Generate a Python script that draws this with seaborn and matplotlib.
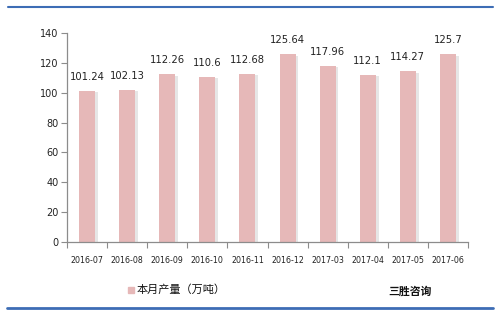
import matplotlib
matplotlib.use("Agg")
import matplotlib.pyplot as plt
import matplotlib.patheffects as pe
from matplotlib.lines import Line2D
import seaborn as sns
import pandas as pd
import numpy as np

months = ["2016-07", "2016-08", "2016-09", "2016-10", "2016-11", "2016-12",
          "2017-03", "2017-04", "2017-05", "2017-06"]
values = [101.24, 102.13, 112.26, 110.6, 112.68, 125.64, 117.96, 112.1, 114.27, 125.7]
value_labels = ["101.24", "102.13", "112.26", "110.6", "112.68", "125.64",
                "117.96", "112.1", "114.27", "125.7"]
series_name = "本月产量（万吨）"
source = "三胜咨询"
yticks = [0, 20, 40, 60, 80, 100, 120, 140]

sns.set_theme(style="white")
plt.rcParams['font.family'] = ['DejaVu Sans', 'Noto Sans CJK SC']

df = pd.DataFrame({"month": months, "value": values})

fig = plt.figure(figsize=(5, 3.17), dpi=100)
ax = fig.add_axes([0.134, 0.2366, 0.802, 0.6594])

bar_color = "#e6b8b8"
sns.barplot(data=df, x="month", y="value", color=bar_color, width=0.4,
            saturation=1, ax=ax, edgecolor="none")
for p in ax.patches:
    p.set_path_effects([pe.SimplePatchShadow(offset=(2, -1), shadow_rgbFace="#e0e0e0", alpha=0.8),
                        pe.Normal()])

for i, (v, lab) in enumerate(zip(values, value_labels)):
    ax.text(i, v + 6, lab, ha="center", va="bottom", fontsize=7.2, color="#222222")

ax.set_ylim(0, 140)
ax.set_yticks(yticks)
ax.set_xlim(-0.5, len(months) - 0.5)
ax.set_xlabel("")
ax.set_ylabel("")
for s in ["top", "right"]:
    ax.spines[s].set_visible(False)
for s in ["left", "bottom"]:
    ax.spines[s].set_color("#8c8c8c")
    ax.spines[s].set_linewidth(0.9)

ax.tick_params(axis="y", which="major", left=True, length=4, width=0.8, color="#8c8c8c",
               labelsize=7, labelcolor="#222222", pad=2)
ax.tick_params(axis="x", which="major", length=0, labelsize=5.7, labelcolor="#222222", pad=10)
ax.set_xticks(np.arange(-0.5, len(months), 1.0), minor=True)
ax.tick_params(axis="x", which="minor", bottom=True, length=4, width=0.8, color="#8c8c8c")

# legend
fig.add_artist(Line2D([0.262], [1 - 290 / 317], marker="s", markersize=5,
                      color=bar_color, linestyle="none", transform=fig.transFigure))
fig.text(0.274, 1 - 290 / 317, series_name, fontsize=8, va="center", ha="left",
         family=['Noto Sans CJK SC', 'DejaVu Sans'], color="#111111")
fig.text(0.776, 1 - 291 / 317, source, fontsize=7.8, va="center", ha="left",
         family=['Noto Sans CJK SC', 'DejaVu Sans'], weight="bold", color="#111111")

# decorative blue rules
fig.add_artist(Line2D([8 / 500, 493 / 500], [1 - 7 / 317, 1 - 7 / 317],
                      color="#3d6db5", linewidth=1.5, transform=fig.transFigure))
fig.add_artist(Line2D([7 / 500, 493 / 500], [1 - 308 / 317, 1 - 308 / 317],
                      color="#3d6db5", linewidth=2, transform=fig.transFigure))

fig.savefig("out.png", dpi=100)
